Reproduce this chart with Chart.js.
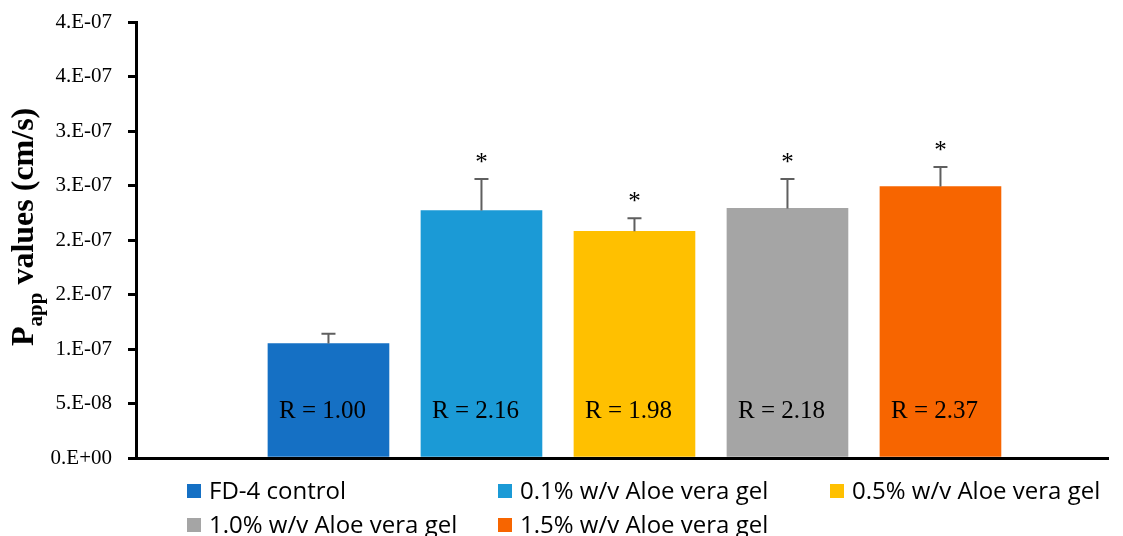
<!DOCTYPE html>
<html>
<head>
<meta charset="utf-8">
<script src="https://cdn.jsdelivr.net/npm/chart.js@4/dist/chart.umd.min.js"></script>
<style>
  html, body { margin: 0; padding: 0; background: #ffffff; }
  #wrap { width: 1123px; height: 536px; position: relative; }
</style>
</head>
<body>
<div id="wrap"><canvas id="chart" width="1123" height="536"></canvas></div>
<script>
// Apparent permeability of FD-4 across the monolayer, per treatment
const categories = ['FD-4 control', '0.1% w/v Aloe vera gel', '0.5% w/v Aloe vera gel', '1.0% w/v Aloe vera gel', '1.5% w/v Aloe vera gel'];
const pappMeans = [1.05e-7, 2.27e-7, 2.08e-7, 2.29e-7, 2.49e-7];
const pappErrors = [0.09e-7, 0.29e-7, 0.12e-7, 0.27e-7, 0.18e-7];
const ratioLabels = ['R = 1.00', 'R = 2.16', 'R = 1.98', 'R = 2.18', 'R = 2.37'];
const significant = [false, true, true, true, true];
const barColors = ['#1570C4', '#1B9AD6', '#FFC000', '#A5A5A5', '#F76500'];
const yTickValues = [0, 5e-8, 1e-7, 1.5e-7, 2e-7, 2.5e-7, 3e-7, 3.5e-7, 4e-7];
const yTickLabels = ['0.E+00', '5.E-08', '1.E-07', '2.E-07', '2.E-07', '3.E-07', '3.E-07', '4.E-07', '4.E-07'];

const SERIF = "'Liberation Serif', 'Times New Roman', serif";
const SANS = "'Open Sans', 'Noto Sans', sans-serif";

// Error bars, significance stars, ratio labels, axis title and legend
const annotations = {
  id: 'annotations',
  afterDatasetsDraw(chart) {
    const ctx = chart.ctx;
    const xs = chart.scales.x, ys = chart.scales.y;
    ctx.save();
    pappMeans.forEach((m, i) => {
      const cx = xs.getPixelForValue(i);
      const top = ys.getPixelForValue(m);
      const cap = ys.getPixelForValue(m + pappErrors[i]);
      // upper error bar
      ctx.strokeStyle = '#5f5f5f';
      ctx.lineWidth = 2;
      ctx.beginPath();
      ctx.moveTo(cx, top);
      ctx.lineTo(cx, cap);
      ctx.moveTo(cx - 7, cap);
      ctx.lineTo(cx + 7, cap);
      ctx.stroke();
      // significance marker
      if (significant[i]) {
        ctx.fillStyle = '#000';
        ctx.font = '25px ' + SERIF;
        ctx.textAlign = 'center';
        ctx.textBaseline = 'alphabetic';
        ctx.fillText('*', cx, cap - 9);
      }
      // ratio label inside the bar
      ctx.fillStyle = '#000';
      ctx.font = '25px ' + SERIF;
      ctx.textAlign = 'center';
      ctx.textBaseline = 'middle';
      ctx.fillText(ratioLabels[i], cx - 6, 411);
    });

    // y-axis title with subscript
    ctx.save();
    ctx.translate(33, 346);
    ctx.rotate(-Math.PI / 2);
    ctx.fillStyle = '#000';
    ctx.textAlign = 'left';
    ctx.textBaseline = 'alphabetic';
    ctx.font = 'bold 32px ' + SERIF;
    ctx.fillText('P', 0, 0);
    let w = ctx.measureText('P').width;
    ctx.font = 'bold 21px ' + SERIF;
    ctx.fillText('app', w, 9);
    w += ctx.measureText('app').width;
    ctx.font = 'bold 32px ' + SERIF;
    ctx.fillText(' values (cm/s)', w, 0);
    ctx.restore();

    // legend laid out in columns
    const legendPos = [[187, 491], [498, 491], [830, 491], [187, 525], [498, 525]];
    ctx.font = '24px ' + SANS;
    ctx.textAlign = 'left';
    ctx.textBaseline = 'middle';
    categories.forEach((c, i) => {
      const [lx, ly] = legendPos[i];
      ctx.fillStyle = barColors[i];
      ctx.fillRect(lx, ly - 7, 14, 14);
      ctx.fillStyle = '#000';
      ctx.fillText(c, lx + 22, ly + 1);
    });
    ctx.restore();
  }
};

new Chart(document.getElementById('chart'), {
  type: 'bar',
  data: {
    datasets: [{
      label: 'Papp',
      data: pappMeans.map((v, i) => ({ x: i, y: v })),
      backgroundColor: barColors,
      borderWidth: 0,
      barThickness: 121
    }]
  },
  options: {
    responsive: false,
    animation: false,
    layout: { padding: { top: 22, right: 15, left: 0, bottom: 0 } },
    plugins: { legend: { display: false }, tooltip: { enabled: false } },
    scales: {
      x: {
        type: 'linear',
        offset: false,
        min: -1.258,
        max: 5.095,
        grid: { display: false, drawTicks: false, offset: false },
        ticks: { display: false },
        border: { display: true, color: '#000', width: 3 },
        afterFit(scale) { scale.height = 78; }
      },
      y: {
        min: 0,
        max: 4e-7,
        afterBuildTicks(scale) { scale.ticks = yTickValues.map(v => ({ value: v })); },
        ticks: {
          color: '#000',
          padding: 16,
          font: { family: SERIF, size: 21 },
          callback: (v, i) => yTickLabels[i]
        },
        grid: { drawOnChartArea: false, drawTicks: true, tickLength: 8, tickColor: '#000', tickWidth: 3, lineWidth: 3 },
        border: { display: true, color: '#000', width: 3 },
        afterFit(scale) { scale.width = 136; scale.paddingTop = 0; scale.paddingBottom = 0; }
      }
    }
  },
  plugins: [annotations]
});
</script>
</body>
</html>
